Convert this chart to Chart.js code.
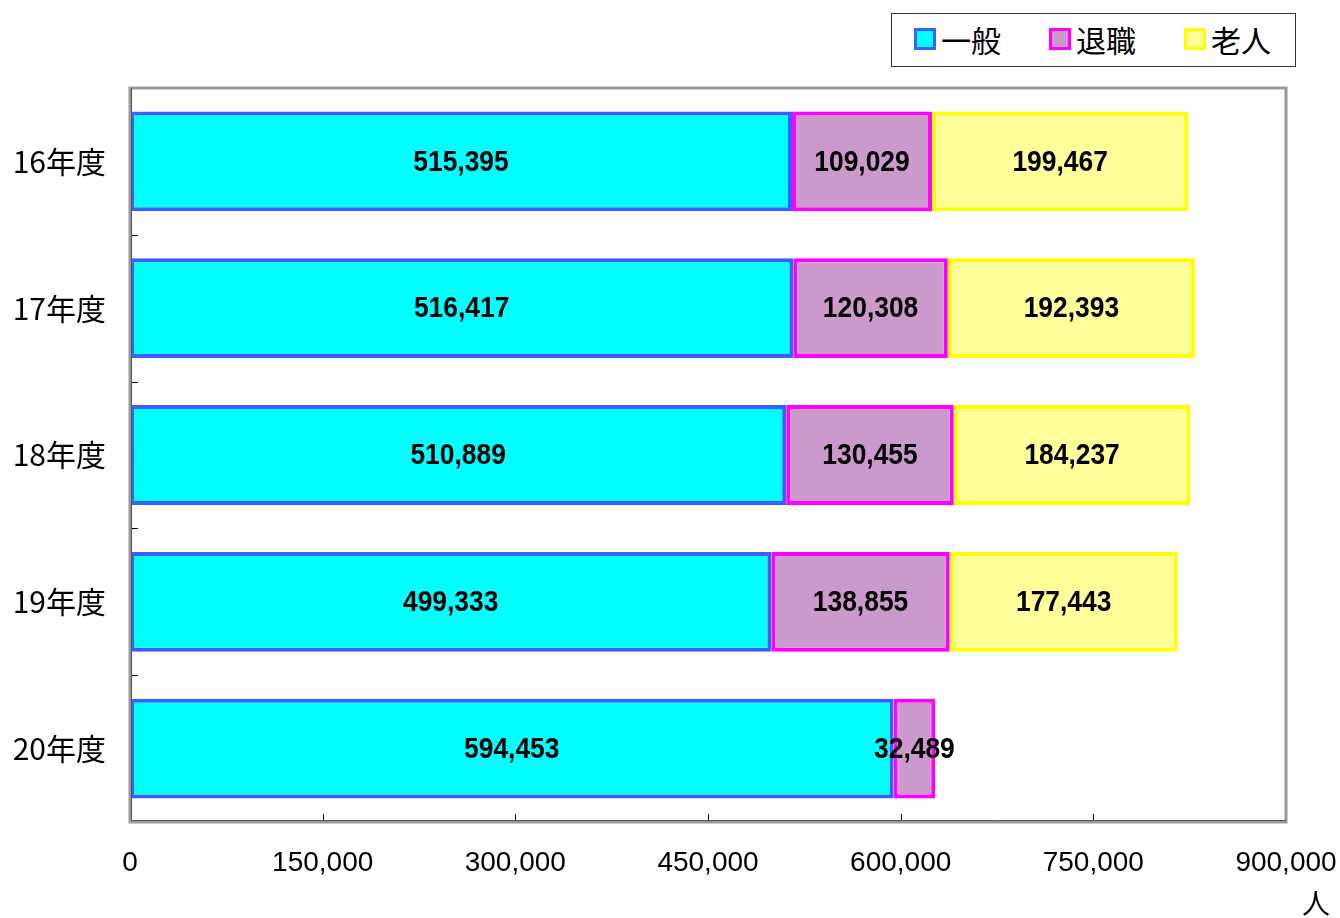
<!DOCTYPE html>
<html>
<head>
<meta charset="utf-8">
<script src="https://cdn.jsdelivr.net/npm/chart.js@4"></script>
<style>
  body { margin: 0; background: #fff; }
  #wrap { position: relative; width: 1340px; height: 918px; }
  #legend {
    position: absolute; left: 891px; top: 13px; width: 405px; height: 54px;
    border: 1px solid #333; background: #fff; box-sizing: border-box;
    font-family: "Noto Sans CJK JP", sans-serif; font-size: 30px; color: #000;
  }
  .item { display: flex; align-items: center; position: absolute; top: 3px; line-height: 44px; }
  .box { width: 16px; height: 16px; border-width: 3px; border-style: solid; margin-right: 5px; }
</style>
</head>
<body>
<div id="wrap">
  <canvas id="barChart" width="1340" height="918"></canvas>
  <div id="legend"></div>
</div>
<script>
// Bar Chart (stacked, horizontal)

const categories = ['16年度', '17年度', '18年度', '19年度', '20年度'];
const ippan = [515395, 516417, 510889, 499333, 594453];
const taishoku = [109029, 120308, 130455, 138855, 32489];
const roujin = [199467, 192393, 184237, 177443, null];
const seriesNames = ['一般', '退職', '老人'];
const fills = ['#00FFFF', '#CC99CC', '#FFFF99'];
const borders = ['#3A5FFF', '#FF00FF', '#FFFF00'];

// legend
const legend = document.getElementById('legend');
const legendX = [22, 157, 292];
seriesNames.forEach((name, i) => {
  const item = document.createElement('div');
  item.className = 'item';
  item.style.left = legendX[i] + 'px';
  item.innerHTML = '<span class="box" style="background:' + fills[i] + ';border-color:' + borders[i] + '"></span>' + name;
  legend.appendChild(item);
});

const fmt = v => v.toLocaleString('en-US');

const framePlugin = {
  id: 'frame',
  afterDatasetsDraw(chart) {
    const { ctx, chartArea: a, scales } = chart;
    ctx.save();
    // tick marks
    ctx.strokeStyle = '#000';
    ctx.lineWidth = 1;
    for (let i = 0; i <= categories.length; i++) {
      const y = Math.round(a.top + (a.bottom - a.top) * i / categories.length) + 0.5;
      ctx.beginPath();
      ctx.moveTo(a.left, y);
      ctx.lineTo(a.left + 8, y);
      ctx.stroke();
    }
    scales.x.ticks.forEach(t => {
      const x = Math.round(scales.x.getPixelForValue(t.value)) + 0.5;
      ctx.beginPath();
      ctx.moveTo(x, a.bottom);
      ctx.lineTo(x, a.bottom - 8);
      ctx.stroke();
    });
    // frame
    ctx.strokeStyle = '#999';
    ctx.lineWidth = 3;
    ctx.strokeRect(a.left, a.top, a.right - a.left, a.bottom - a.top);
    ctx.strokeStyle = '#555';
    ctx.lineWidth = 1;
    ctx.beginPath();
    ctx.moveTo(a.left + 1.5, a.top);
    ctx.lineTo(a.left + 1.5, a.bottom - 1.5);
    ctx.lineTo(a.right, a.bottom - 1.5);
    ctx.stroke();

    // data labels (bold, narrowed)
    ctx.fillStyle = '#000';
    ctx.font = 'bold 30px "Liberation Sans", Arial, sans-serif';
    ctx.textAlign = 'center';
    ctx.textBaseline = 'middle';
    chart.data.datasets.forEach((ds, di) => {
      chart.getDatasetMeta(di).data.forEach((bar, i) => {
        const v = ds.data[i];
        if (v == null) return;
        const cx = (bar.x + bar.base) / 2;
        ctx.save();
        ctx.translate(cx, bar.y + 1);
        ctx.scale(0.88, 1);
        ctx.fillText(fmt(v), 0, 0);
        ctx.restore();
      });
    });

    // unit
    ctx.font = '28px "Noto Sans CJK JP", sans-serif';
    ctx.fillText('人', 1316, 903);
    ctx.restore();
  }
};

const barCtx = document.getElementById('barChart');

new Chart(barCtx, {
  type: 'bar',

  data: {
    labels: categories,

    datasets: [ippan, taishoku, roujin].map((d, i) => ({
      label: seriesNames[i],
      data: d,
      backgroundColor: fills[i],
      borderColor: borders[i],
      borderWidth: 4,
      borderSkipped: false,
      barPercentage: 0.68,
      categoryPercentage: 1
    }))
  },

  options: {
    indexAxis: 'y',
    responsive: false,
    animation: false,
    layout: {
      padding: { top: 88, right: 54, left: 0, bottom: 0 }
    },

    plugins: {
      legend: { display: false },
      tooltip: { enabled: false }
    },

    scales: {
      x: {
        stacked: true,
        min: 0,
        max: 900000,
        grid: { display: false, drawTicks: false },
        border: { display: false },
        afterFit: s => { s.height = 96; s.paddingLeft = 0; s.paddingRight = 0; },
        ticks: {
          stepSize: 150000,
          padding: 24,
          color: '#000',
          font: { size: 28, family: '"Liberation Sans", Arial, sans-serif' },
          callback: v => fmt(v),
          maxRotation: 0
        }
      },

      y: {
        stacked: true,
        grid: { display: false, drawTicks: false },
        border: { display: false },
        afterFit: s => { s.width = 130; s.paddingTop = 0; s.paddingBottom = 0; },
        ticks: {
          padding: 24,
          color: '#000',
          font: { size: 30, family: '"Noto Sans CJK JP", sans-serif' }
        }
      }
    }
  },

  plugins: [framePlugin]
});
</script>
</body>
</html>
